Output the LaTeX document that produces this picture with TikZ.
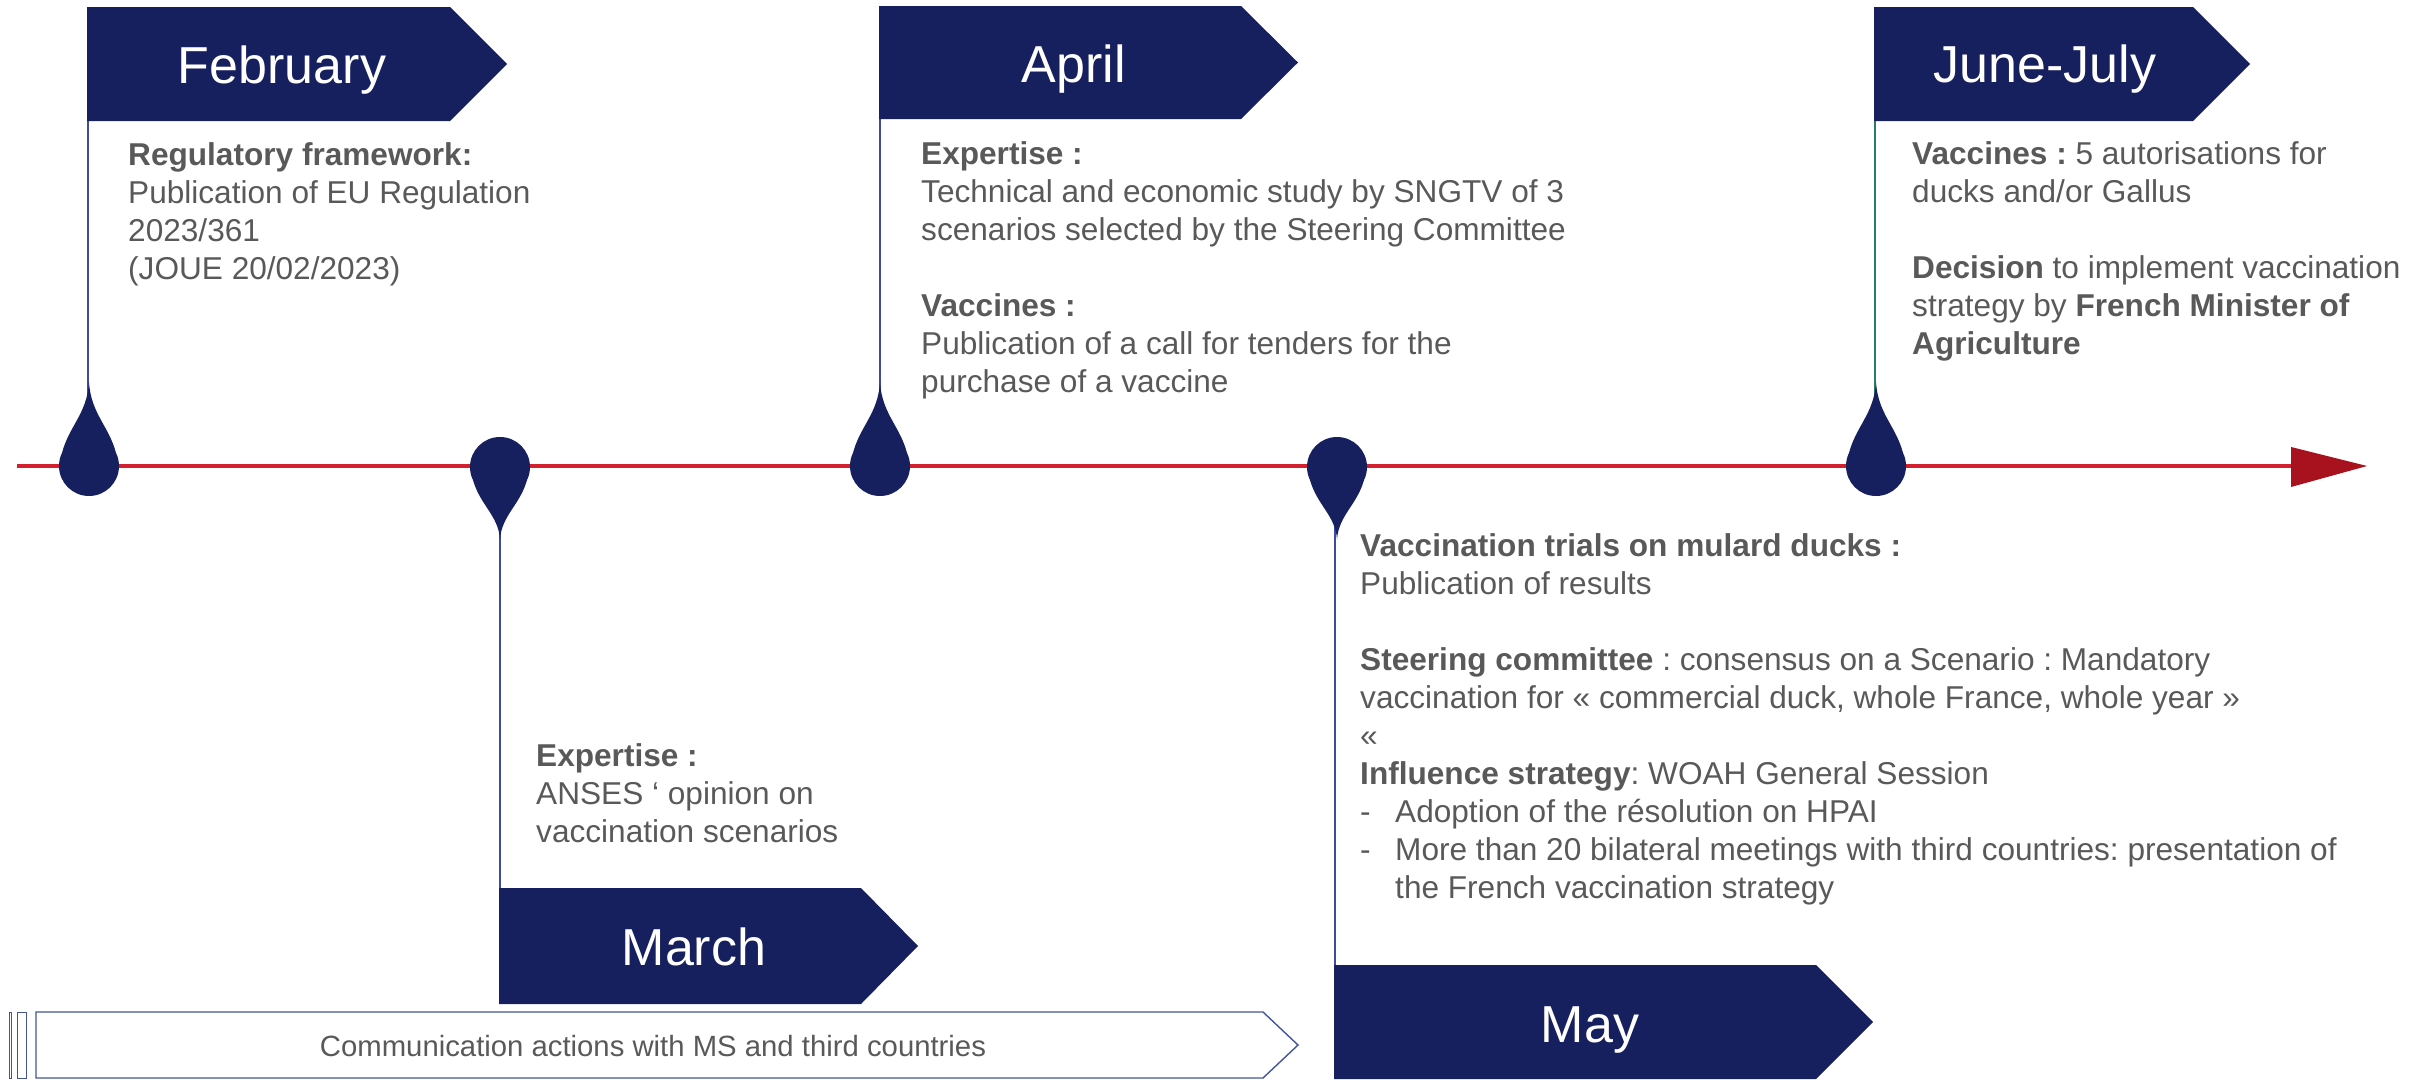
\documentclass[tikz,border=0pt]{standalone}
\usepackage{fontspec}
\setmainfont{Liberation Sans}
\usetikzlibrary{calc}
\definecolor{navy}{HTML}{17205E}
\definecolor{tlred}{HTML}{D2202E}
\definecolor{tlhead}{HTML}{A8121E}
\definecolor{stemblue}{HTML}{3F4AA5}
\definecolor{stemgreen}{HTML}{2E7A68}
\definecolor{txtgray}{HTML}{595959}
\definecolor{commline}{HTML}{44549A}
\newcommand\blk[1]{\begin{tabular}[t]{@{}l@{}}#1\end{tabular}}
\newcommand\dsh{\makebox[35pt][l]{-}}
% chevron: left, rect end, tip, top, bottom
\newcommand\chev[5]{\fill[navy] (#1,#4) -- (#2,#4) -- (#3,{(#4+#5)/2}) -- (#2,#5) -- (#1,#5) -- cycle;}
% pins: x, y
\newcommand\pinup[2]{%
  \fill[navy] (#1,#2) circle[radius=30];
  \fill[navy] (#1,#2-84) .. controls (#1+2,#2-52) and (#1+20,#2-40) .. (#1+27,#2-13)
     -- (#1-27,#2-13) .. controls (#1-20,#2-40) and (#1-2,#2-52) .. cycle;}
\newcommand\pindown[2]{%
  \fill[navy] (#1,#2) circle[radius=30];
  \fill[navy] (#1,#2+72) .. controls (#1+2,#2+48) and (#1+20,#2+38) .. (#1+27,#2+13)
     -- (#1-27,#2+13) .. controls (#1-20,#2+38) and (#1-2,#2+48) .. cycle;}
\frenchspacing
\begin{document}
\begin{tikzpicture}[x=1pt,y=-1pt,
  body/.style={anchor=base west, inner sep=0pt, text=txtgray, font=\fontsize{31.6}{38.1}\selectfont},
  month/.style={anchor=base, inner sep=0pt, text=white, font=\fontsize{52}{60}\selectfont},
  stemline/.style={draw=stemblue, line width=2.2pt},
  commbox/.style={draw=commline, line width=1.4pt}]
\useasboundingbox (0,0) rectangle (2423,1079);

% coordinates
\coordinate (lstart) at (17,466);
\coordinate (lend) at (2292,466);
\coordinate (febtop) at (88,121);   \coordinate (febpin) at (88,420);
\coordinate (aprtop) at (880,119);  \coordinate (aprpin) at (880,420);
\coordinate (juntop) at (1875,121); \coordinate (junpin) at (1875,420);
\coordinate (marbot) at (500,888);  \coordinate (marpin) at (500,520);
\coordinate (maybot) at (1335,965); \coordinate (maypin) at (1335,520);

% timeline
\draw[tlred, line width=4pt] (lstart) -- (lend);
\fill[tlhead] (2291,447) -- (2367,466) -- (2291,487) -- cycle;

% stems
\draw[stemline] (febtop) -- (febpin);
\draw[stemline] (aprtop) -- (aprpin);
\draw[draw=stemgreen, line width=2.2pt] (juntop) -- (junpin);
\draw[stemline] (marpin) -- (marbot);
\draw[stemline] (maypin) -- (maybot);

% pins
\pinup{89}{466}
\pindown{500}{467}
\pinup{880}{466}
\pindown{1337}{467}
\pinup{1876}{466}

% month chevrons
\chev{87}{450}{507}{7}{121}
\chev{879}{1241}{1298}{6}{119}
\chev{1874}{2193}{2250}{7}{121}
\chev{499}{861}{918}{888}{1004}
\chev{1334}{1816}{1873}{965}{1079}
\node[month] (feb) at (282,83) {February};
\node[month] (apr) at (1074,82) {April};
\node[month] (jun) at (2045,82) {June-July};
\node[month] (mar) at (694,965) {March};
\node[month] (may) at (1590,1042) {May};

% texts
\node[body] (febtxt) at (128,165) {\blk{\textbf{Regulatory framework:}\\
Publication of EU Regulation\\
2023/361\\
(JOUE 20/02/2023)}};

\node[body] (aprtxt) at (921,164) {\blk{\textbf{Expertise :}\\
Technical and economic study by SNGTV of 3\\
scenarios selected by the Steering Committee\\
\\
\textbf{Vaccines :}\\
Publication of a call for tenders for the\\
purchase of a vaccine}};

\node[body] (juntxt) at (1912,164) {\blk{\textbf{Vaccines :} 5 autorisations for\\
ducks and/or Gallus\\
\\
\textbf{Decision} to implement vaccination\\
strategy by \textbf{French Minister of}\\
\textbf{Agriculture}}};

\node[body] (martxt) at (536,766) {\blk{\textbf{Expertise :}\\
ANSES ‘ opinion on\\
vaccination scenarios}};

\node[body] (maytxt) at (1360,556) {\blk{\textbf{Vaccination trials on mulard ducks :}\\
Publication of results\\
\\
\textbf{Steering committee} : consensus on a Scenario : Mandatory\\
vaccination for « commercial duck, whole France, whole year »\\
«\\
\textbf{Influence strategy}: WOAH General Session\\
\dsh Adoption of the résolution on HPAI\\
\dsh More than 20 bilateral meetings with third countries: presentation of\\
\hspace*{35pt}the French vaccination strategy}};

% communication bar
\draw[commbox, line width=1pt] (9,1012) rectangle (11,1078);
\draw[commbox, line width=1pt] (17,1012) rectangle (26,1078);
\draw[commbox] (36,1012) -- (1263,1012) -- (1298,1045) -- (1263,1078) -- (36,1078) -- cycle;
\node[anchor=base, inner sep=0pt, text=txtgray, font=\fontsize{29.3}{34}\selectfont] (comm) at (653,1056) {Communication actions with MS and third countries};
\end{tikzpicture}
\end{document}
